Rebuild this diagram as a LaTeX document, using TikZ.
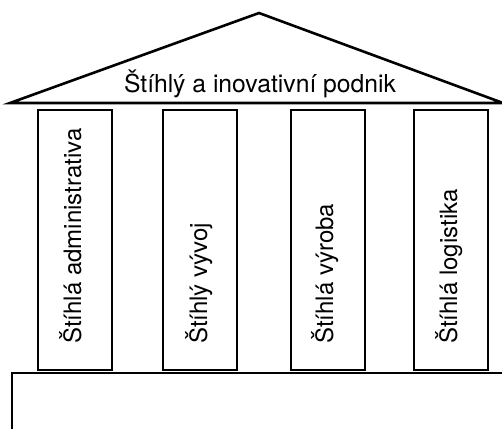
\documentclass[tikz,border=0pt]{standalone}
\usepackage{fontspec}
\setmainfont{TeX Gyre Heros}
\begin{document}
\begin{tikzpicture}[x=1bp,y=-1bp,
  outline/.style={draw=black,line width=2.2bp,line join=miter},
  pillar/.style={outline,rectangle,minimum width=74bp,minimum height=260bp,inner sep=0pt,anchor=north west},
  label/.style={font=\fontsize{24bp}{28bp}\selectfont,inner sep=0pt},
  pillartext/.style={label,rotate=90,anchor=base west}]
\useasboundingbox (0,0) rectangle (502,428);
\clip (0,0) rectangle (502,428);

% roof
\coordinate (roofL) at (10,103);
\coordinate (roofT) at (259,13);
\coordinate (roofR) at (503,103);
\draw[outline,line width=2.6bp] (roofL) -- (roofT) -- (roofR) -- cycle;
\node[label,font=\fontsize{24.7bp}{28bp}\selectfont,anchor=base] (title) at (260,92) {Štíhlý a inovativní podnik};

% pillars
\node[pillar] (p1) at (37,109) {};
\node[pillar] (p2) at (162,109) {};
\node[pillar] (p3) at (290,109) {};
\node[pillar] (p4) at (413,109) {};

\node[pillartext] (t1) at ([xshift=6bp]p1.center |- 0,344) {Štíhlá administrativa};
\node[pillartext] (t2) at ([xshift=7bp]p2.center |- 0,344) {Štíhlý vývoj};
\node[pillartext] (t3) at ([xshift=5bp]p3.center |- 0,344) {Štíhlá výroba};
\node[pillartext] (t4) at ([xshift=6bp]p4.center |- 0,344) {Štíhlá logistika};

% foundation
\draw[outline] (520,373) -- (12,373) -- (12,440);
\end{tikzpicture}
\end{document}
